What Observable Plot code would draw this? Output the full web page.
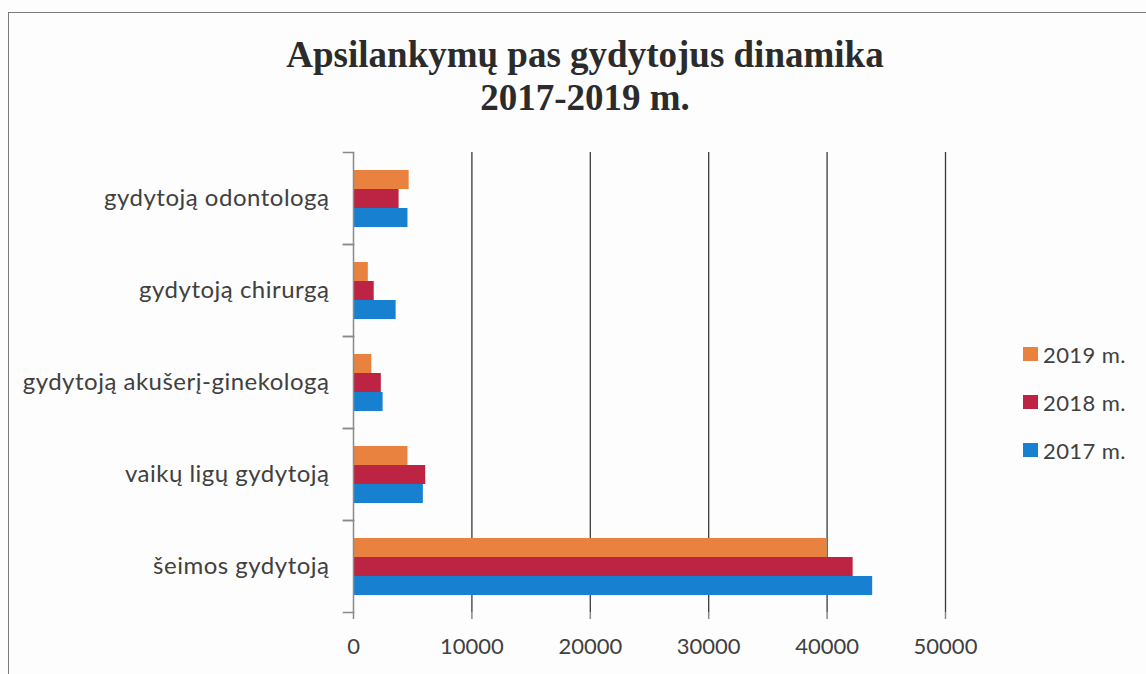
<!DOCTYPE html>
<html>
<head>
<meta charset="utf-8">
<script src="https://cdn.jsdelivr.net/npm/d3@7"></script>
<script src="https://cdn.jsdelivr.net/npm/@observablehq/plot@0.6"></script>
<style>
  html, body { margin: 0; padding: 0; background: #fff; }
  #wrap { position: relative; width: 1146px; height: 674px; overflow: hidden; background: #fdfdfd; }
  #border { position: absolute; left: 8px; top: 12px; width: 1160px; height: 700px; border: 1.5px solid #7a7a7a; box-sizing: border-box; }
  #title { position: absolute; left: 0; top: 33px; width: 1170px; text-align: center;
           font-family: "Liberation Serif", "Times New Roman", serif; font-weight: bold; font-size: 37px;
           line-height: 43px; color: #2b2b2b; }
  #chart { position: absolute; left: 0; top: 0; }
  #legend { position: absolute; left: 1023px; top: 330px; font-family: Lato, sans-serif; font-size: 22px; color: #404040; letter-spacing: 0.4px; }
  .li { display: flex; align-items: center; height: 48px; }
  .sw { width: 15px; height: 14px; margin-right: 5px; }
  g[aria-label="fy-axis tick label"] text { letter-spacing: 0.5px; }
</style>
</head>
<body>
<div id="wrap">
  <div id="border"></div>
  <div id="title">Apsilankymų pas gydytojus dinamika<br>2017-2019 m.</div>
  <div id="chart"></div>
  <div id="legend"></div>
</div>
<script>
const categories = ["gydytoją odontologą", "gydytoją chirurgą", "gydytoją akušerį-ginekologą", "vaikų ligų gydytoją", "šeimos gydytoją"];
const years = ["2019 m.", "2018 m.", "2017 m."];
const values2019 = [4700, 1250, 1550, 4600, 40000];
const values2018 = [3850, 1750, 2350, 6100, 42200];
const values2017 = [4600, 3600, 2500, 5900, 43850];
const colors = ["#E8823E", "#BD2342", "#1880D0"];
const xTicks = [0, 10000, 20000, 30000, 40000, 50000];

const series = [values2019, values2018, values2017];
const data = [];
categories.forEach((c, i) => years.forEach((y, j) => data.push({cat: c, year: y, value: series[j][i]})));

const plot = Plot.plot({
  width: 1146,
  height: 674,
  marginTop: 150,
  marginBottom: 61,
  marginLeft: 353,
  marginRight: 201,
  style: {background: "transparent", fontFamily: "Lato, sans-serif", color: "#404040"},
  x: {domain: [0, 50000]},
  y: {domain: years, paddingInner: 0, paddingOuter: 0.815, axis: null},
  fy: {domain: categories, padding: 0},
  color: {domain: years, range: colors},
  marks: [
    Plot.ruleX(xTicks.slice(1), {stroke: "#3a3a3a", strokeWidth: 1.3}),
    Plot.barX(data, {x: "value", y: "year", fy: "cat", fill: "year", insetTop: 0, insetBottom: 0}),
    Plot.ruleX([0], {stroke: "#8a8a8a", strokeWidth: 1.5}),
    Plot.frame({anchor: "top", insetLeft: -10, insetRight: 592, stroke: "#8a8a8a", strokeWidth: 1.5}),
    Plot.frame({anchor: "bottom", insetLeft: -10, insetRight: 592, stroke: "#8a8a8a", strokeWidth: 1.5}),
    Plot.axisFy({anchor: "left", tickSize: 0, tickPadding: 24, fontSize: 24, label: null, fill: "#404040"}),
    Plot.axisX({ticks: xTicks, tickFormat: d => String(d), tickSize: 7, tickPadding: 19, fontSize: 22,
                label: null, line: true, stroke: "#8a8a8a", strokeWidth: 1.5, fill: "#404040"})
  ]
});
document.getElementById("chart").appendChild(plot);

const legend = document.getElementById("legend");
years.forEach((y, j) => {
  const row = document.createElement("div");
  row.className = "li";
  const sw = document.createElement("div");
  sw.className = "sw";
  sw.style.background = colors[j];
  const t = document.createElement("span");
  t.textContent = y;
  row.appendChild(sw); row.appendChild(t);
  legend.appendChild(row);
});
</script>
</body>
</html>
